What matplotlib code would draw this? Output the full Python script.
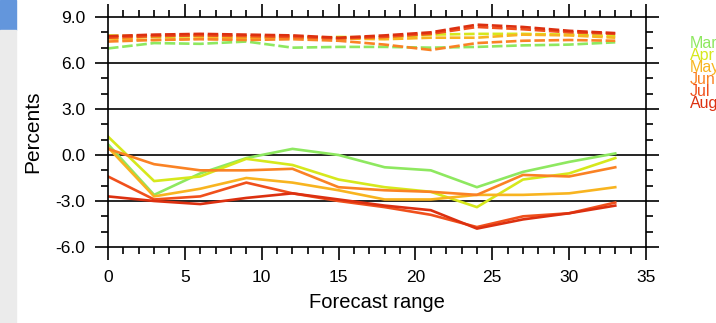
import matplotlib.pyplot as plt
from matplotlib.patches import Rectangle
from matplotlib.ticker import MultipleLocator

plt.rcParams["font.family"] = ["Liberation Sans", "DejaVu Sans"]

# forecast range (hours/days) and monthly series
steps = [0, 3, 6, 9, 12, 15, 18, 21, 24, 27, 30, 33]
months = ["Mar", "Apr", "May", "Jun", "Jul", "Aug"]
colors = ["#8ee860", "#d6e81c", "#f8b420", "#fa8224", "#f0501c", "#dc3010"]

# dashed (upper) series
upper = {
    "Mar": [6.95, 7.3, 7.25, 7.4, 7.0, 7.05, 7.05, 7.0, 7.05, 7.15, 7.2, 7.35],
    "Apr": [7.8, 7.7, 7.75, 7.7, 7.6, 7.7, 7.65, 7.85, 7.9, 7.9, 7.85, 7.75],
    "May": [7.6, 7.5, 7.6, 7.6, 7.75, 7.6, 7.55, 7.65, 7.65, 7.85, 7.8, 7.65],
    "Jun": [7.4, 7.5, 7.55, 7.5, 7.55, 7.45, 7.2, 6.85, 7.3, 7.45, 7.5, 7.45],
    "Jul": [7.65, 7.75, 7.8, 7.75, 7.7, 7.6, 7.7, 7.9, 8.35, 8.2, 8.0, 7.9],
    "Aug": [7.75, 7.85, 7.9, 7.85, 7.8, 7.65, 7.8, 8.0, 8.5, 8.35, 8.1, 7.95],
}

# solid (lower) series
lower = {
    "Mar": [0.7, -2.6, -1.2, -0.2, 0.4, 0.0, -0.8, -1.0, -2.1, -1.1, -0.45, 0.1],
    "Apr": [1.2, -1.7, -1.4, -0.25, -0.65, -1.6, -2.1, -2.4, -3.4, -1.6, -1.2, -0.2],
    "May": [0.5, -2.7, -2.2, -1.5, -1.8, -2.3, -2.9, -2.9, -2.6, -2.6, -2.5, -2.1],
    "Jun": [0.4, -0.6, -1.0, -1.0, -0.9, -2.1, -2.3, -2.4, -2.6, -1.3, -1.4, -0.8],
    "Jul": [-1.4, -2.9, -2.7, -1.8, -2.5, -3.0, -3.4, -3.9, -4.7, -4.0, -3.8, -3.1],
    "Aug": [-2.7, -3.0, -3.2, -2.8, -2.5, -2.9, -3.3, -3.6, -4.8, -4.2, -3.8, -3.3],
}

fig = plt.figure(figsize=(7.16, 3.23), dpi=100)

# background strip on the far left
fig.patches.append(Rectangle((0, 1 - 30 / 323), 16 / 716, 30 / 323,
                             transform=fig.transFigure, color="#6396dc", zorder=0))
fig.patches.append(Rectangle((0, 0), 16 / 716, 1 - 30 / 323,
                             transform=fig.transFigure, color="#ebebeb", zorder=0))

ax = fig.add_axes([108 / 716, 1 - 247 / 323, 538 / 716, 230 / 323])

for ref in [6, 3, 0, -3]:
    ax.axhline(ref, color="black", linewidth=1.2, zorder=1)

for m, c in zip(months, colors):
    ax.plot(steps, lower[m], color=c, linewidth=1.9, zorder=2)
for m, c in zip(months, colors):
    ax.plot(steps, upper[m], color=c, linewidth=1.9, linestyle=(0, (4, 1.4)), zorder=2)

ax.set_xlim(0, 35)
ax.set_ylim(-6, 9)
ax.xaxis.set_major_locator(MultipleLocator(5))
ax.xaxis.set_minor_locator(MultipleLocator(1))
ax.yaxis.set_major_locator(MultipleLocator(3))
ax.yaxis.set_minor_locator(MultipleLocator(1))
ax.yaxis.set_major_formatter(plt.FormatStrFormatter("%.1f"))

ax.tick_params(which="both", direction="out", top=True, right=True,
               labeltop=False, labelright=False, width=1.2, colors="black")
ax.tick_params(which="major", length=9.5, labelsize=12.5, pad=7)
ax.tick_params(which="minor", length=5)
for s in ax.spines.values():
    s.set_linewidth(1.2)

ax.set_xlabel("Forecast range", fontsize=14.5, labelpad=6)
ax.set_ylabel("Percents", fontsize=15, labelpad=9)

# month labels on the right
for i, (m, c) in enumerate(zip(months, colors)):
    fig.text(690 / 716, 1 - (43 + i * 12.2) / 323, m, color=c, fontsize=11.5,
             ha="left", va="center")

fig.savefig("out.png", dpi=100)
